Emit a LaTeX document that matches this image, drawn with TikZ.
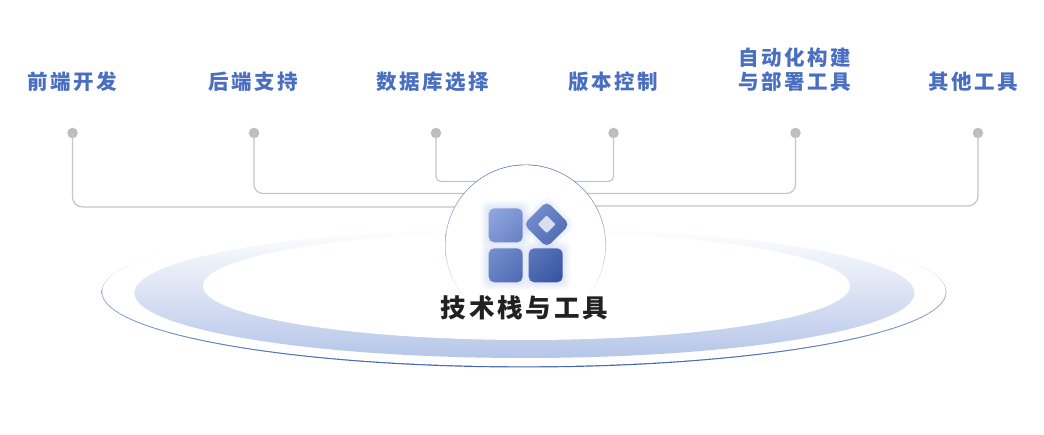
\documentclass[tikz,border=0pt]{standalone}
\usepackage{fontspec}
\usetikzlibrary{shapes.geometric}
\newfontfamily\cjklabel[LetterSpace=12]{Noto Sans CJK SC}
\newfontfamily\cjktitle[LetterSpace=11]{Noto Sans CJK SC}
\definecolor{labelblue}{HTML}{4A6FC0}
\definecolor{wire}{HTML}{C6C6C6}
\definecolor{dotgrey}{HTML}{BDBDBD}
\definecolor{bandlow}{HTML}{B6C6E9}
\definecolor{glow}{HTML}{6F8FE6}
\definecolor{rimdark}{HTML}{3F62B4}
\definecolor{tilelight}{HTML}{93AAE2}
\definecolor{tilemid}{HTML}{5580DC}
\definecolor{tiledark}{HTML}{2F4E9E}
\pgfdeclareverticalshading{orbitline}{100bp}{
  color(0bp)=(rimdark);
  color(25bp)=(rimdark); color(35bp)=(rimdark!80!white); color(50bp)=(rimdark!50!white);
  color(56bp)=(rimdark!25!white); color(63bp)=(white); color(100bp)=(white)}
\pgfdeclareverticalshading{hubline}{100bp}{
  color(0bp)=(white); color(33bp)=(white); color(50bp)=(rimdark!40!white);
  color(75bp)=(rimdark!90!white); color(100bp)=(rimdark!90!white)}
\tikzset{
  wirepath/.style={draw=wire,line width=1.2pt},
  dotnode/.style={circle,fill=dotgrey,minimum size=10.5pt,inner sep=0pt},
  labelnode/.style={font=\cjklabel\bfseries\fontsize{20.5}{24}\selectfont,text=labelblue,align=center,inner sep=0pt},
  titlenode/.style={font=\cjktitle\bfseries\fontsize{25.5}{30}\selectfont,text=black!87,inner sep=0pt},
  roundnode/.style={circle,inner sep=0pt},
}
\begin{document}
\begin{tikzpicture}[x=1pt,y=-1pt]
\useasboundingbox (0,0) rectangle (1044,435);
\fill[white] (0,0) rectangle (1044,435);

% topic labels
\node[labelnode] (lab1) at (72.5,82) {前端开发};
\node[labelnode] (lab2) at (253,82) {后端支持};
\node[labelnode] (lab3) at (433,82) {数据库选择};
\node[labelnode] (lab4) at (613,82) {版本控制};
\node[labelnode] (lab5) at (795,70) {自动化构建\\与部署工具};
\node[labelnode] (lab6) at (973,82) {其他工具};

% end dots
\node[dotnode] (d1) at (72.5,133) {};
\node[dotnode] (d2) at (254,133) {};
\node[dotnode] (d3) at (436,133) {};
\node[dotnode] (d4) at (613.5,133) {};
\node[dotnode] (d5) at (795.5,133) {};
\node[dotnode] (d6) at (978,133) {};

% connector joints hidden behind the hub
\coordinate (j1) at (525,207);
\coordinate (j2) at (525,193.5);
\coordinate (j3) at (525,181.5);
\coordinate (j4) at (525,181.5);
\coordinate (j5) at (525,193.5);
\coordinate (j6) at (525,206);
\draw[wirepath,rounded corners=10pt] (d1.center) |- (j1);
\draw[wirepath,rounded corners=9pt] (d2.center) |- (j2);
\draw[wirepath,rounded corners=5pt] (d3.center) |- (j3);
\draw[wirepath,rounded corners=5pt] (d4.center) |- (j4);
\draw[wirepath,rounded corners=9pt] (d5.center) |- (j5);
\draw[wirepath,rounded corners=10pt] (d6.center) |- (j6);

% platform: thin rim, shaded band, white centre
\shade[shading=orbitline] (524,292) ellipse [x radius=422.5,y radius=75.5];
\fill[white] (524,291.6) ellipse [x radius=421.7,y radius=74.7];
\shade[top color=white,middle color=bandlow!72!white,bottom color=bandlow] (524.5,293) ellipse [x radius=390,y radius=65];
\fill[white] (526.5,286) ellipse [x radius=323.5,y radius=54];

% hub circle
\node[roundnode,minimum size=161pt,shading=hubline] (hubrim) at (525.5,245) {};
\node[roundnode,minimum size=159.6pt,fill=white] (hub) at (525.5,245) {};

% soft glow behind the icon
\foreach \g in {1,...,8}{
  \fill[glow,opacity=.022,rounded corners=6pt]
    (488.7-\g,208.3-\g) rectangle (522.7+\g,242.3+\g)
    (488.7-\g,248.3-\g) rectangle (522.7+\g,282.3+\g)
    (528.7-\g,248.3-\g) rectangle (562.7+\g,282.3+\g);
  \fill[glow,opacity=.014,rounded corners=9pt]
    (546.7,201.3-\g) -- (569.7+\g,224.3) -- (546.7,247.3+\g) -- (523.7-\g,224.3) -- cycle;
}

% icon tiles sharing one diagonal gradient
\begin{scope}
  \path[clip,rounded corners=5.5pt]
    (488.7,208.3) rectangle (522.7,242.3)
    (488.7,248.3) rectangle (522.7,282.3)
    (528.7,248.3) rectangle (562.7,282.3)
    (546.7,201.3) -- (569.7,224.3) -- (546.7,247.3) -- (523.7,224.3) -- cycle;
  \shade[left color=tilelight,middle color=tilemid,right color=tiledark,shading angle=45]
    (470,190) rectangle (582,302);
\end{scope}
\fill[white!78!labelblue,rounded corners=1pt]
  (546.7,215.5) -- (555.5,224.3) -- (546.7,233.1) -- (537.9,224.3) -- cycle;

% central title
\node[titlenode] (title) at (524.5,308) {技术栈与工具};
\end{tikzpicture}
\end{document}
